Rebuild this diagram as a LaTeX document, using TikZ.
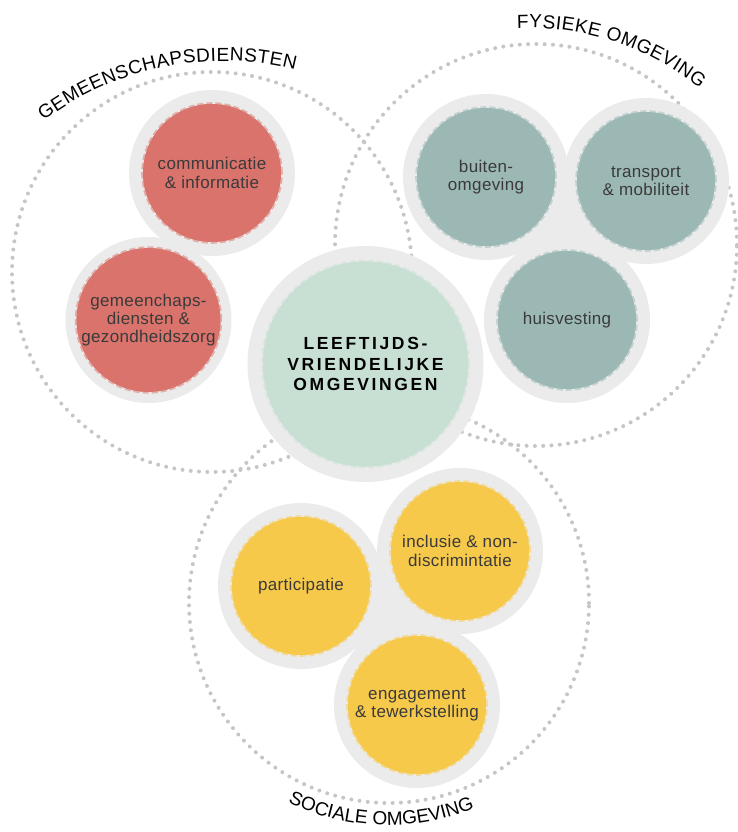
\documentclass[tikz,border=0pt]{standalone}
\usepackage{fontspec}
\setmainfont{Liberation Sans}
\newfontfamily\labelfont[LetterSpace=2]{Liberation Sans}
\newfontfamily\titlefont[LetterSpace=15]{Liberation Sans}
\newfontfamily\arcfont{Liberation Sans}
\usetikzlibrary{decorations.text}
\definecolor{ringgrey}{HTML}{EBEBEB}
\definecolor{dotgrey}{HTML}{C6C6C6}
\definecolor{redfill}{HTML}{D9736B}
\definecolor{tealfill}{HTML}{9CB8B5}
\definecolor{yellowfill}{HTML}{F6C94B}
\definecolor{greenfill}{HTML}{C8DFD4}
\definecolor{labelgrey}{HTML}{3A3A3A}
\tikzset{
  ring/.style={circle, fill=ringgrey, minimum size=166pt, inner sep=0pt},
  bigring/.style={circle, fill=ringgrey, minimum size=236pt, inner sep=0pt},
  topic/.style={circle, minimum size=138pt, inner sep=0pt, line width=3.6pt,
    dash pattern=on 6pt off 3pt, align=center, text=labelgrey,
    font=\labelfont\fontsize{17}{18.3}\selectfont},
  redtopic/.style={topic, fill=redfill, draw=redfill!50!ringgrey, postaction={fill=redfill}},
  tealtopic/.style={topic, fill=tealfill, draw=tealfill!50!ringgrey, postaction={fill=tealfill}},
  yellowtopic/.style={topic, fill=yellowfill, draw=yellowfill!50!ringgrey, postaction={fill=yellowfill}},
  centretopic/.style={circle, minimum size=205pt, inner sep=0pt, line width=3.6pt,
    dash pattern=on 6pt off 3pt, align=center, text=black,
    fill=greenfill, draw=greenfill!50!ringgrey, postaction={fill=greenfill},
    font=\titlefont\bfseries\fontsize{17.5}{20.5}\selectfont},
  dotcircle/.style={draw=dotgrey, line width=4pt, line cap=round, dash pattern=on 0pt off 8.3pt},
}
\begin{document}
\begin{tikzpicture}[x=1pt,y=1pt]
\useasboundingbox (0,0) rectangle (738,-832);
% dotted group circles
\draw[dotcircle] (212,-272) circle[radius=200];
\draw[dotcircle] (536,-245) circle[radius=201];
\draw[dotcircle] (389,-603) circle[radius=200];
% arc labels
\path[decorate, decoration={text along path, text align=fit to path,
  text={|\arcfont\fontsize{19}{20}\selectfont|GEMEENSCHAPSDIENSTEN}}]
  (223,-359) ++(127:298) arc[start angle=127, end angle=76, radius=298];
\path[decorate, decoration={text along path, text align=fit to path,
  text={|\arcfont\fontsize{19}{20}\selectfont|FYSIEKE OMGEVING}}]
  (529,-300) ++(92.5:272) arc[start angle=92.5, end angle=51.1, radius=272];
\path[decorate, decoration={text along path, text align=fit to path,
  text={|\arcfont\fontsize{19}{20}\selectfont|SOCIALE OMGEVING}}]
  (387,-594) ++(244.6:231) arc[start angle=244.6, end angle=292, radius=231];
% grey rings
\node[bigring] (centrering) at (365.5,-364) {};
\node[ring] (commring) at (212,-173) {};
\node[ring] (gemring) at (148.5,-320) {};
\node[ring] (buitenring) at (486,-177) {};
\node[ring] (transring) at (646,-181) {};
\node[ring] (huisring) at (567,-320) {};
\node[ring] (partring) at (301,-586) {};
\node[ring] (inclring) at (460,-551) {};
\node[ring] (engring) at (417,-705) {};
\fill[ringgrey] (buitenring.center) -- (transring.center) -- (huisring.center) -- cycle;
\fill[ringgrey] (partring.center) -- (inclring.center) -- (engring.center) -- cycle;
% coloured topics
\node[centretopic] (centre) at (centrering.center) {LEEFTIJDS-\\VRIENDELIJKE\\OMGEVINGEN};
\node[redtopic] (comm) at (commring.center) {communicatie\\\& informatie};
\node[redtopic] (gem) at (gemring.center) {gemeenchaps-\\diensten \&\\gezondheidszorg};
\node[tealtopic] (buiten) at (buitenring.center) {buiten-\\omgeving};
\node[tealtopic] (trans) at (transring.center) {transport\\\& mobiliteit};
\node[tealtopic] (huis) at (huisring.center) {huisvesting};
\node[yellowtopic] (part) at (partring.center) {participatie};
\node[yellowtopic] (incl) at (inclring.center) {inclusie \& non-\\discrimintatie};
\node[yellowtopic] (eng) at (engring.center) {engagement\\\& tewerkstelling};
\end{tikzpicture}
\end{document}
